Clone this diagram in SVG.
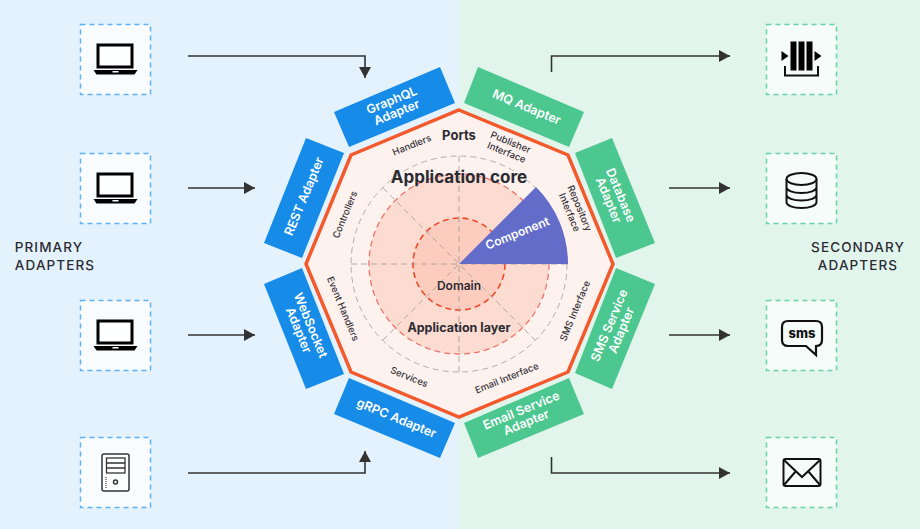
<svg xmlns="http://www.w3.org/2000/svg" width="920" height="529" viewBox="0 0 920 529">
<style>
text{font-family:Inter,"Noto Sans",sans-serif;text-anchor:middle;fill:#2b2b33}
.ad{fill:#fff;font-size:12.5px;font-weight:600}
.sm{font-size:9.5px;font-weight:500;fill:#33333a}
.hd{font-weight:700}
.side{font-size:13.5px;font-weight:500;letter-spacing:1.1px}
.bl{fill:#178be8}.gr{fill:#4cc790}
.bb,.gb{stroke-width:1.5;stroke-dasharray:5 4}
.bb{fill:#f8fcff;stroke:#5db2f5}.gb{fill:#f6fcfa;stroke:#66d3a4}
.conn{fill:none;stroke:#333;stroke-width:1.6}
.spk{fill:none;stroke:#a09a98;stroke-width:.8;stroke-dasharray:6 4}
.ic{fill:none;stroke:#111;stroke-width:2}
</style>
<defs>
<marker id="ah" markerUnits="userSpaceOnUse" markerWidth="12" markerHeight="12" refX="11" refY="6" orient="auto"><path d="M0 0L11 6L0 12Z" fill="#333"/></marker>
<g id="laptop"><rect x="-17.5" y="-15" width="34" height="22" fill="#fff" fill-opacity=".6" stroke="#000" stroke-width="3"/><path d="M-22 10H22L19 14.500H-19Z" fill="#000"/><rect x="-3" y="11" width="6" height="1.500" fill="#fff"/></g>
</defs>
<rect id="bg-left" width="459" height="529" fill="#e3f2fd"/>
<rect id="bg-right" x="459" width="461" height="529" fill="#e2f5ec"/>
<g id="connectors" class="conn">
<path class="conn" d="M188 56H365V78" marker-end="url(#ah)"/>
<path class="conn" d="M188 188H255" marker-end="url(#ah)"/>
<path class="conn" d="M188 335H255" marker-end="url(#ah)"/>
<path class="conn" d="M188 473H365V451" marker-end="url(#ah)"/>
<path class="conn" d="M551.500 72V56H730" marker-end="url(#ah)"/>
<path class="conn" d="M669 188H730" marker-end="url(#ah)"/>
<path class="conn" d="M669 335H730" marker-end="url(#ah)"/>
<path class="conn" d="M551.500 457V473H730" marker-end="url(#ah)"/>
</g>
<g id="core">
<path d="M459 110L568 155L613 264L568 372L459 417L351 372L306 264L351 155Z" fill="#fef2ee" stroke="#f4592b" stroke-width="3.500"/>
<circle cx="459" cy="264" r="108" fill="none" stroke="#a09a98" stroke-width=".8" stroke-dasharray="6 4"/>
<circle cx="459" cy="264" r="90" fill="#fcdcd1" stroke="#f2706a" stroke-width="1.300" stroke-dasharray="6 4"/>
<circle cx="459" cy="264" r="46" fill="#fccdbf" stroke="#f0492a" stroke-width="1.600" stroke-dasharray="6 4"/>
<path class="spk" d="M351 264H567M459 156V372M383 188L535 340M383 340L459 264"/>
<path d="M459 264L536 187A109 109 0 0 1 568 264Z" fill="#636dc9"/>
<text class="hd" x="459" y="140" font-size="13">Ports</text>
<text class="hd" x="459" y="183" font-size="17">Application core</text>
<text class="hd" x="459" y="332" font-size="12.500">Application layer</text>
<text class="hd" x="459" y="290" font-size="12" style="font-weight:600">Domain</text>
<text class="ad" transform="translate(519 237) rotate(-22)" style="font-size:12px">Component</text>
<g class="sm">
<text class="sm" transform="translate(413 148) rotate(-22)">Handlers</text>
<text class="sm" transform="translate(508 149) rotate(22)"><tspan class="sm" x="0" y="-4">Publisher</tspan><tspan class="sm" x="0" y="7">Interface</tspan></text>
<text class="sm" transform="translate(573 211) rotate(67.500)"><tspan class="sm" x="0" y="-4">Repository</tspan><tspan class="sm" x="0" y="7">Interface</tspan></text>
<text class="sm" transform="translate(348 216) rotate(-67.500)">Controllers</text>
<text class="sm" transform="translate(340 310) rotate(67.500)">Event Handlers</text>
<text class="sm" transform="translate(408 380) rotate(22)">Services</text>
<text class="sm" transform="translate(508 381) rotate(-22)">Email Interface</text>
<text class="sm" transform="translate(578 312) rotate(-67.500)">SMS Interface</text>
</g>
</g>
<g id="graphql-adapter"><path class="bl" d="M334 112L440 67L455 103L349 147Z"/><text class="ad" transform="translate(394.500 107) rotate(-22.500)"><tspan x="0" y="-3">GraphQL</tspan><tspan x="0" y="10">Adapter</tspan></text></g>
<g id="rest-adapter"><path class="bl" d="M306 138L344 153L302 258L264 243Z"/><text class="ad" transform="translate(308 198) rotate(-67.500)">REST Adapter</text></g>
<g id="websocket-adapter"><path class="bl" d="M302 268L344 374L306 389L264 284Z"/><text class="ad" transform="translate(304 328) rotate(67.500)"><tspan x="0" y="-3">WebSocket</tspan><tspan x="0" y="10">Adapter</tspan></text></g>
<g id="grpc-adapter"><path class="bl" d="M349 378L455 423L440 458L334 414Z"/><text class="ad" transform="translate(395 422) rotate(22.500)">gRPC Adapter</text></g>
<g id="mq-adapter"><path class="gr" d="M478 67L584 112L569 147L464 103Z"/><text class="ad" transform="translate(525 111) rotate(22.500)">MQ Adapter</text></g>
<g id="database-adapter"><path class="gr" d="M612 138L655 243L616 258L575 153Z"/><text class="ad" transform="translate(614 198) rotate(67.500)"><tspan x="0" y="-3">Database</tspan><tspan x="0" y="10">Adapter</tspan></text></g>
<g id="sms-adapter"><path class="gr" d="M616 268L655 284L612 389L575 373Z"/><text class="ad" transform="translate(616 328) rotate(-67.500)"><tspan x="0" y="-3">SMS Service</tspan><tspan x="0" y="10">Adapter</tspan></text></g>
<g id="email-adapter"><path class="gr" d="M464 423L569 378L584 414L478 458Z"/><text class="ad" transform="translate(524 417) rotate(-22.500)"><tspan x="0" y="-3">Email Service</tspan><tspan x="0" y="10">Adapter</tspan></text></g>
<g id="p1"><rect class="bb" x="80.500" y="24.500" width="70" height="70"/><use href="#laptop" x="115.500" y="60"/></g>
<g id="p2"><rect class="bb" x="80.500" y="153.500" width="70" height="70"/><use href="#laptop" x="115.500" y="189"/></g>
<g id="p3"><rect class="bb" x="80.500" y="300.500" width="70" height="70"/><use href="#laptop" x="115.500" y="336"/></g>
<g id="p4"><rect class="bb" x="80.500" y="437.500" width="70" height="70"/>
<rect x="102" y="454" width="27" height="37" rx="2" fill="#fff" fill-opacity=".5" stroke="#333" stroke-width="1.500"/>
<rect x="106.500" y="458" width="18.500" height="15" fill="#fff" stroke="#333" stroke-width="1.300"/><path d="M106.500 463H125M106.500 468H125" stroke="#333" stroke-width="1.300"/>
<circle cx="115.500" cy="482" r="2" fill="none" stroke="#333" stroke-width="1.500"/><path d="M106 477V488" stroke="#444" stroke-width="1.200" stroke-dasharray="1 1"/></g>
<g id="s1"><rect class="gb" x="766.500" y="24.500" width="70" height="70"/>
<path d="M790.500 41.500h6v29h-6zM798.500 41.500h6v29h-6zM806.500 41.500h6v29h-6zM781.500 51l7 5-7 5zM814.500 51l7 5-7 5z" fill="#000"/><path d="M785 66V75.500H818V66" class="ic"/></g>
<g id="s2"><rect class="gb" x="766.500" y="153.500" width="70" height="70"/>
<g class="ic"><ellipse cx="801.500" cy="179" rx="15" ry="6"/><path d="M786.500 179V202C786.500 205.500 793 208 801.500 208S816.500 205.500 816.500 202V179M786.500 187C786.500 190.500 793 193 801.500 193S816.500 190.500 816.500 187M786.500 194.500C786.500 198 793 200.500 801.500 200.500S816.500 198 816.500 194.500"/></g></g>
<g id="s3"><rect class="gb" x="766.500" y="300.500" width="70" height="70"/>
<path class="ic" style="stroke-width:2.200" d="M788 321H816Q822 321 822 327V340Q822 346 816 346H816V355L806 346H788Q782 346 782 340V327Q782 321 788 321Z"/>
<text x="802" y="338" style="font-size:13px;font-weight:800;fill:#111">sms</text></g>
<g id="s4"><rect class="gb" x="766.500" y="437.500" width="70" height="70"/>
<rect x="783.500" y="459" width="37" height="27" rx="2" class="ic"/><path class="ic" d="M784 460L802 477L820 460M784 485L796 471M820 485L808 471"/></g>
<text class="side" x="49" y="252">PRIMARY</text><text class="side" x="55" y="270">ADAPTERS</text>
<text class="side" x="858" y="252">SECONDARY</text><text class="side" x="858" y="270">ADAPTERS</text>
</svg>
